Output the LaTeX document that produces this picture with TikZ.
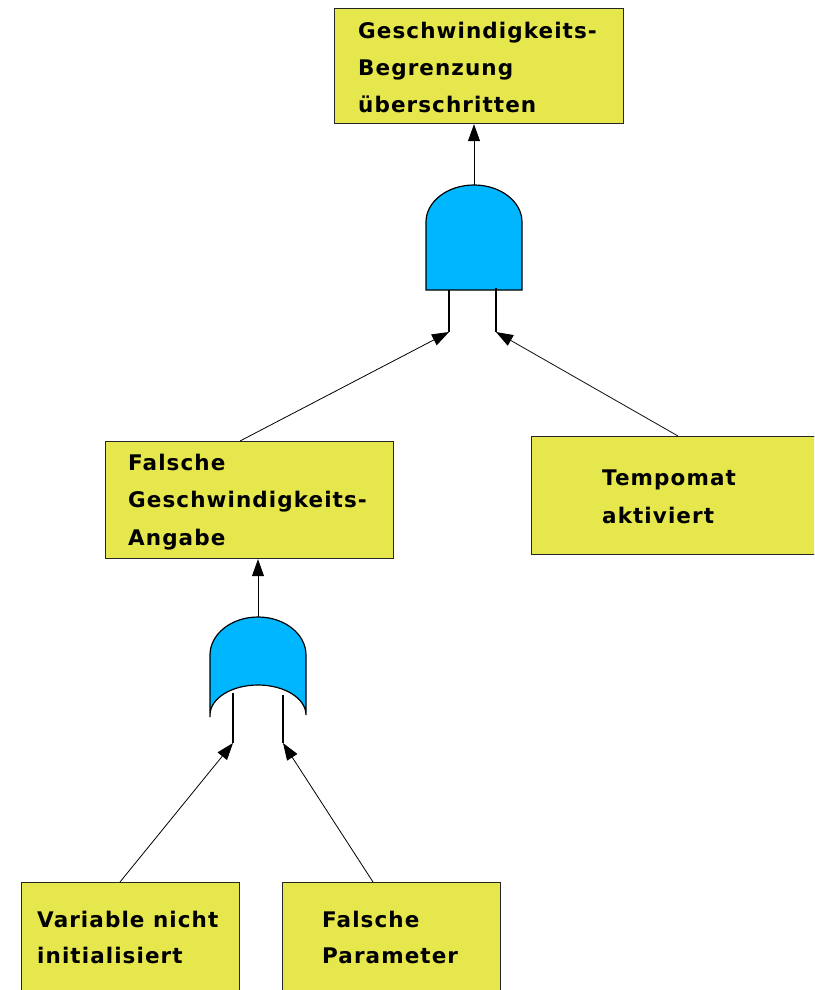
\documentclass[tikz,border=0pt]{standalone}
\usepackage{fontspec}
\setmainfont{DejaVu Sans}[LetterSpace=5]
\usetikzlibrary{arrows.meta}
\definecolor{eventfill}{RGB}{230,230,77}
\definecolor{gatefill}{RGB}{0,183,255}
\begin{document}
\begin{tikzpicture}[x=1pt,y=-1pt,
  event/.style={draw=black!85,line width=1.2pt,fill=eventfill,inner sep=0,anchor=north west},
  txt/.style={anchor=base west,inner sep=0,font=\fontsize{21.5}{24}\selectfont\bfseries},
  gate/.style={draw=black,line width=1.2pt,fill=gatefill},
  leg/.style={draw=black,line width=1.2pt},
  link/.style={draw=black,line width=0.8pt,-{Triangle[length=17pt,width=12pt]}}]
\useasboundingbox (0,0) rectangle (814,990);
\clip (0,0) rectangle (814,990);

% event boxes
\node[event,minimum width=289pt,minimum height=115pt] (top) at (334,8) {};
\node[event,minimum width=288pt,minimum height=117pt] (mid) at (105,441) {};
\node[event,minimum width=300pt,minimum height=118pt] (tempo) at (531,436) {};
\node[event,minimum width=218pt,minimum height=120pt] (var) at (21,882) {};
\node[event,minimum width=218pt,minimum height=120pt] (par) at (282,882) {};

% event texts
\node[txt] (top1) at (358,38) {Geschwindigkeits-};
\node[txt] (top2) at (358,75) {Begrenzung};
\node[txt] (top3) at (358,112) {überschritten};
\node[txt] (mid1) at (128,470) {Falsche};
\node[txt] (mid2) at (128,507) {Geschwindigkeits-};
\node[txt] (mid3) at (128,545) {Angabe};
\node[txt] (tempo1) at (602,485) {Tempomat};
\node[txt] (tempo2) at (602,523) {aktiviert};
\node[txt] (var1) at (37,927) {Variable nicht};
\node[txt] (var2) at (37,963) {initialisiert};
\node[txt] (par1) at (322,927) {Falsche};
\node[txt] (par2) at (322,963) {Parameter};

% AND gate
\draw[gate] (426,290) -- (426,222)
  arc[start angle=180,end angle=360,x radius=48,y radius=37] -- (522,290) -- cycle;
\coordinate (andout) at (474,185);
\coordinate (andinA) at (449,332);
\coordinate (andinB) at (496,332);
\draw[leg] (449,290) -- (andinA);
\draw[leg] (496,288) -- (andinB);

% OR gate
\draw[gate] (210,717) -- (210,655)
  arc[start angle=180,end angle=360,x radius=48,y radius=38] -- (306,715)
  arc[start angle=0,end angle=-180,x radius=48,y radius=30] -- cycle;
\coordinate (orout) at (258,617);
\coordinate (orinA) at (233,743);
\coordinate (orinB) at (283,743);
\draw[leg] (233,693) -- (orinA);
\draw[leg] (283,695) -- (orinB);

% connectors
\draw[link] (andout) -- (andout |- top.south);
\draw[link] ([xshift=135pt]mid.north west) -- (andinA);
\draw[link] ([xshift=147pt]tempo.north west) -- (andinB);
\draw[link] (orout) -- (orout |- mid.south);
\draw[link] ([xshift=99pt]var.north west) -- (orinA);
\draw[link] ([xshift=91pt]par.north west) -- (orinB);
\end{tikzpicture}
\end{document}
